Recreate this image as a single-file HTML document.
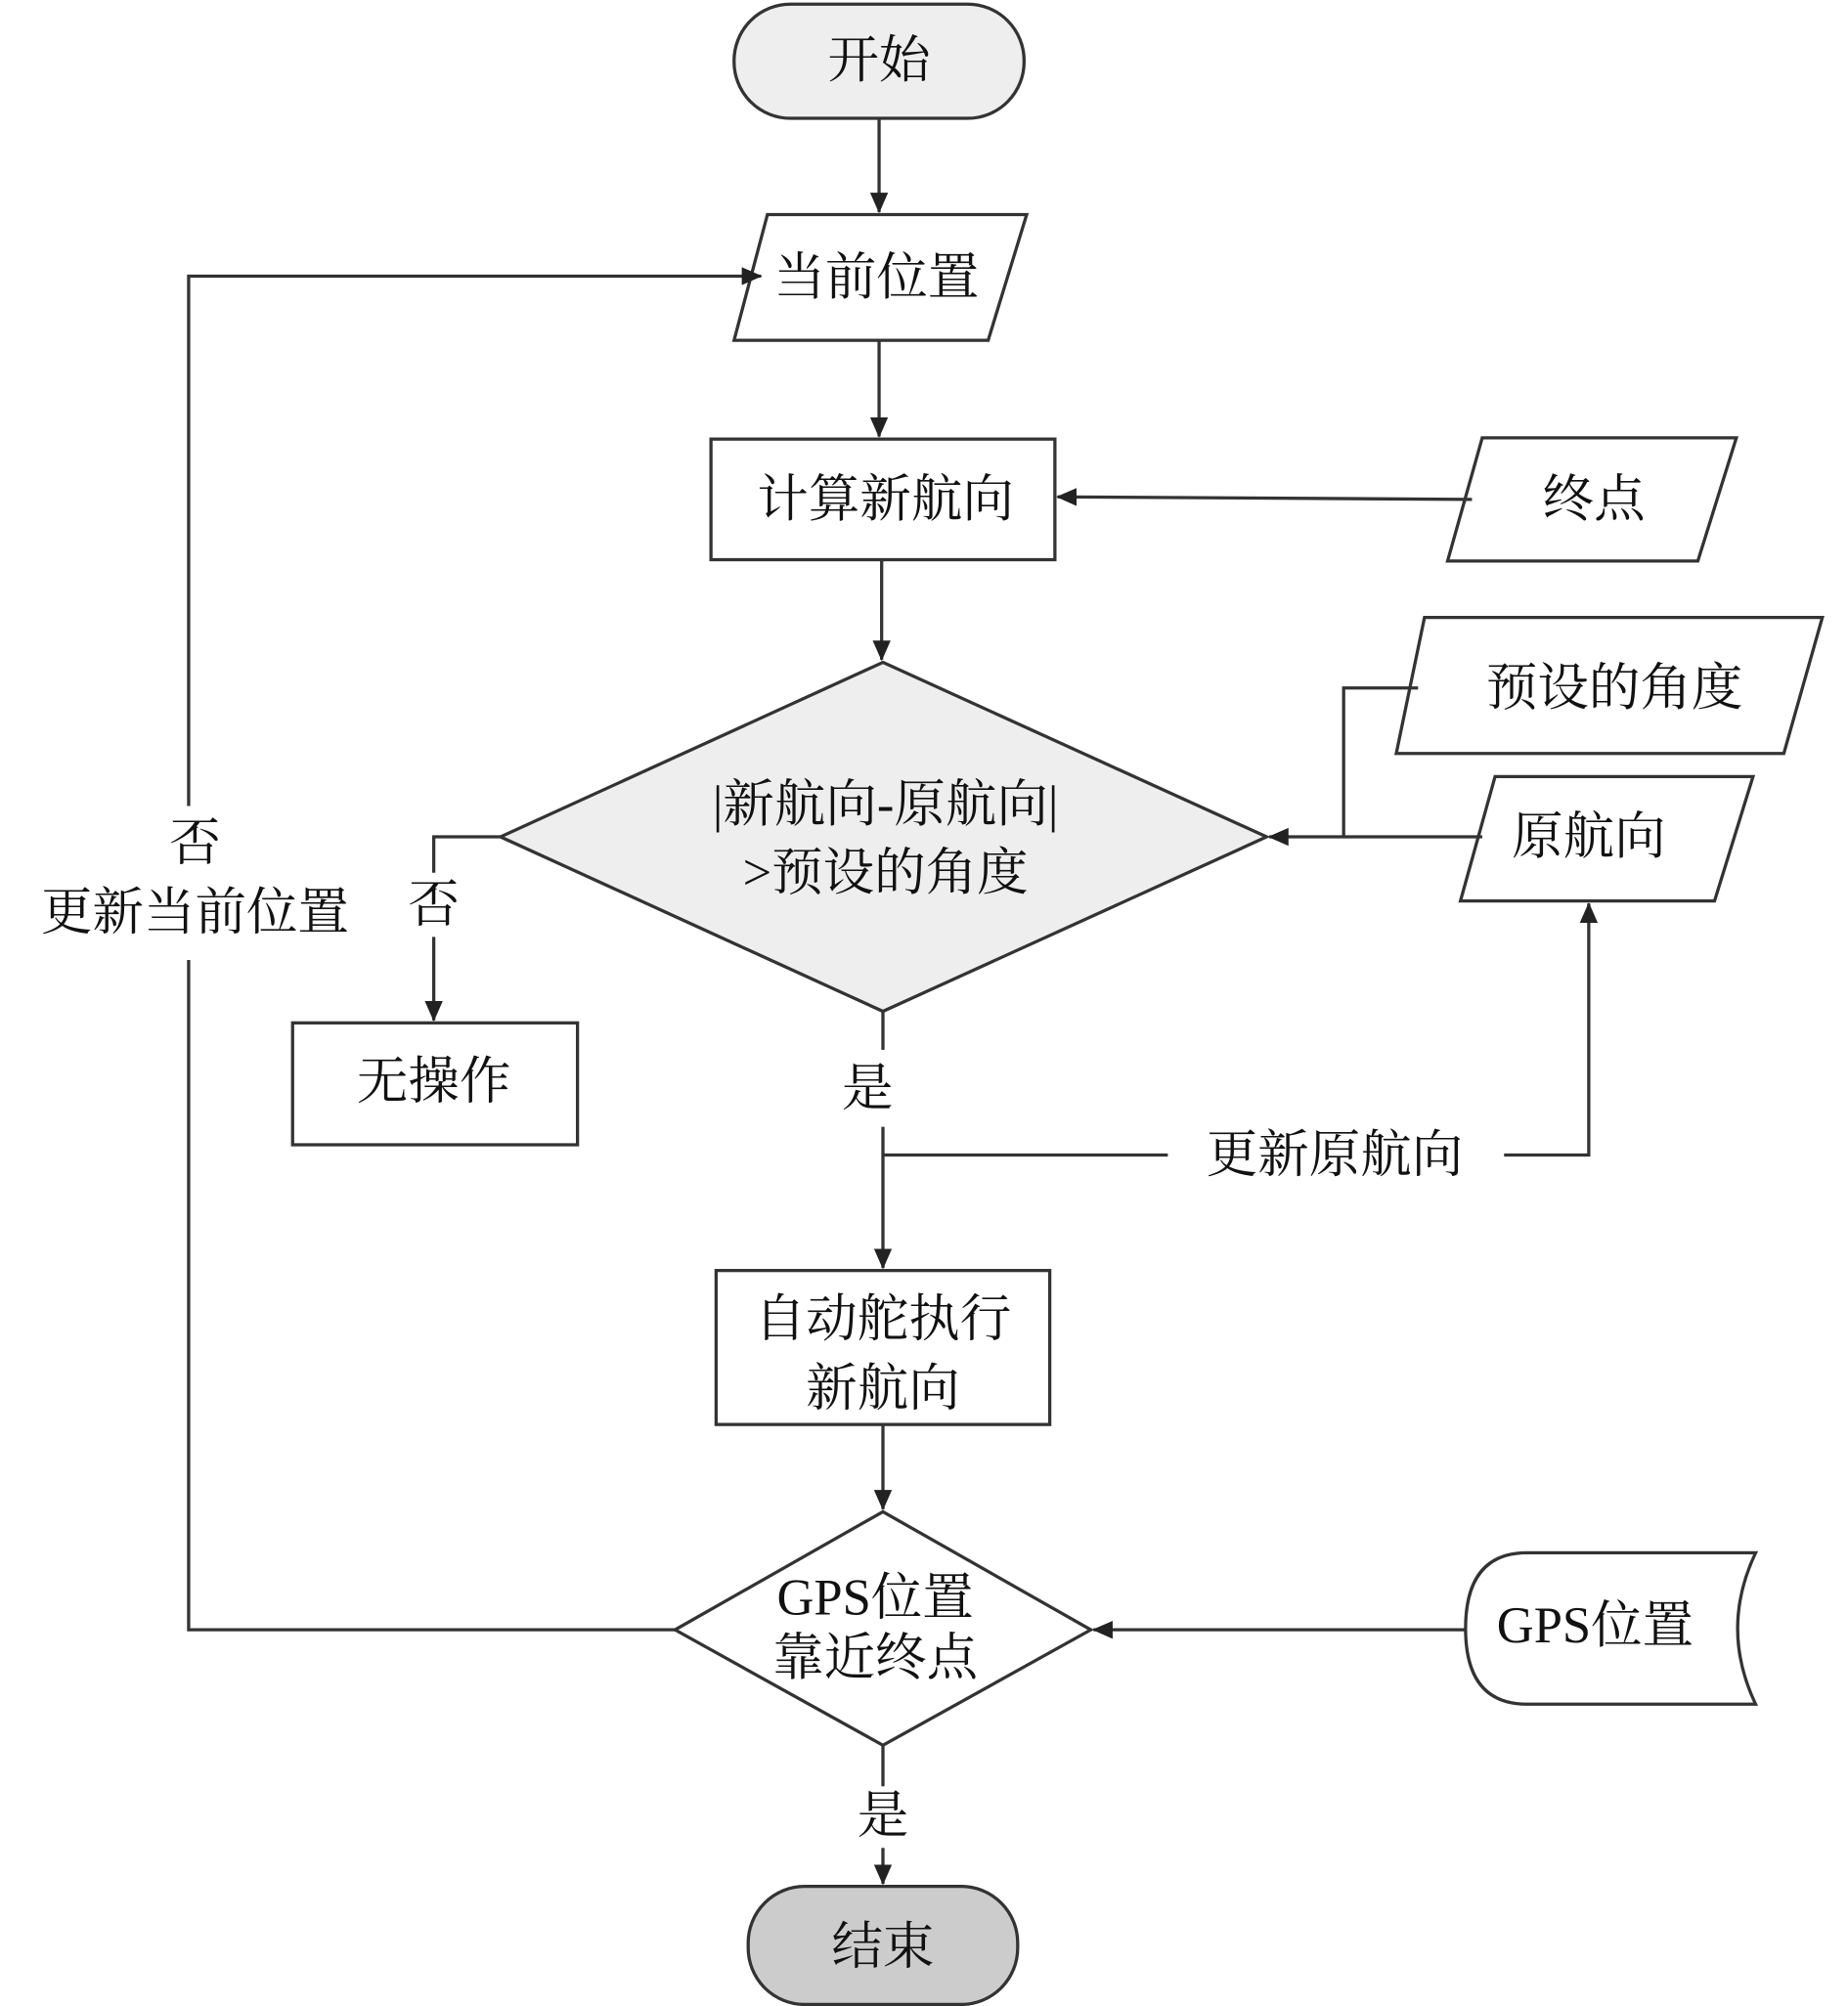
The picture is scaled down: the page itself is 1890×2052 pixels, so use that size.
<!DOCTYPE html>
<html><head><meta charset="utf-8"><style>
html,body{margin:0;padding:0;background:#fff;}
svg{display:block;}
text{font-family:"Liberation Serif","Noto Serif CJK SC",serif;font-size:40px;fill:#111;text-anchor:middle;dominant-baseline:central;}
.s{fill:none;stroke:#333;stroke-width:2.5;}
.n{stroke:#333;stroke-width:2.5;}
</style></head><body>
<svg width="1890" height="2052" viewBox="0 0 1440 1563" xmlns="http://www.w3.org/2000/svg">
<defs><marker id="a" markerWidth="10" markerHeight="10" refX="9" refY="5" orient="auto" markerUnits="userSpaceOnUse" viewBox="0 0 10 10"><path d="M0,0 L10,5 L0,10 z" fill="#222"/></marker>
<marker id="b" markerWidth="16" markerHeight="16" refX="15" refY="8" orient="auto" markerUnits="userSpaceOnUse" viewBox="0 0 16 16"><path d="M0,1 L16,8 L0,15 z" fill="#222"/></marker></defs>

<rect x="572" y="3" width="226" height="89" rx="44" fill="#eee" class="n"/>
<text x="685" y="47">开始</text>
<line x1="685" y1="92" x2="685" y2="165" class="s" marker-end="url(#b)"/>

<polygon points="598,167 800,167 770,265 572,265" fill="#fff" class="n"/>
<text x="683" y="216">当前位置</text>
<line x1="685" y1="265" x2="685" y2="340" class="s" marker-end="url(#b)"/>

<rect x="554" y="342" width="268" height="94" fill="#fff" class="n"/>
<text x="690" y="389">计算新航向</text>

<polygon points="1155,341 1353,341 1323,437 1128,437" fill="#fff" class="n"/>
<text x="1242" y="389">终点</text>
<line x1="1147" y1="389" x2="824" y2="387" class="s" marker-end="url(#b)"/>

<line x1="687" y1="436" x2="687" y2="514" class="s" marker-end="url(#b)"/>

<polygon points="688,516 987,652 688,788 390,652" fill="#eee" class="n"/>
<text x="690" y="627">|新航向-原航向|</text>
<text x="690" y="680">&gt;预设的角度</text>

<polygon points="1110,481 1420,481 1390,587 1088,587" fill="#fff" class="n"/>
<text x="1258" y="536">预设的角度</text>
<polyline points="1105,536 1047,536 1047,652" class="s"/>

<polygon points="1165,605 1366,605 1336,702 1138,702" fill="#fff" class="n"/>
<text x="1238" y="652">原航向</text>
<line x1="1155" y1="652" x2="989" y2="652" class="s" marker-end="url(#b)"/>

<polyline points="390,652 338,652 338,680" class="s"/>
<text x="338" y="705">否</text>
<line x1="338" y1="730" x2="338" y2="795" class="s" marker-end="url(#b)"/>
<rect x="228" y="797" width="222" height="95" fill="#fff" class="n"/>
<text x="338" y="843">无操作</text>

<line x1="688" y1="788" x2="688" y2="818" class="s"/>
<text x="676" y="848">是</text>
<line x1="688" y1="878" x2="688" y2="988" class="s" marker-end="url(#b)"/>
<line x1="688" y1="900" x2="910" y2="900" class="s"/>
<text x="1040" y="900">更新原航向</text>
<polyline points="1172,900 1238,900 1238,704" class="s" marker-end="url(#b)"/>

<rect x="558" y="990" width="260" height="120" fill="#fff" class="n"/>
<text x="688" y="1028">自动舵执行</text>
<text x="688" y="1082">新航向</text>
<line x1="688" y1="1110" x2="688" y2="1176" class="s" marker-end="url(#b)"/>

<polygon points="688,1178 850,1270 688,1360 526,1270" fill="#fff" class="n"/>
<text x="682" y="1245">GPS位置</text>
<text x="682" y="1292">靠近终点</text>

<path d="M1190,1210 L1368,1210 Q1340,1269 1368,1328 L1190,1328 Q1142,1328 1142,1269 Q1142,1210 1190,1210 Z" fill="#fff" class="n"/>
<text x="1243" y="1267">GPS位置</text>
<line x1="1142" y1="1270" x2="852" y2="1270" class="s" marker-end="url(#b)"/>

<polyline points="526,1270 147,1270 147,748" class="s"/>
<polyline points="147,628 147,215 593,215" class="s" marker-end="url(#b)"/>
<text x="152" y="657">否</text>
<text x="152" y="711">更新当前位置</text>

<line x1="688" y1="1360" x2="688" y2="1392" class="s"/>
<text x="688" y="1415">是</text>
<line x1="688" y1="1440" x2="688" y2="1468" class="s" marker-end="url(#b)"/>

<rect x="583" y="1470" width="210" height="92" rx="44" fill="#ccc" class="n"/>
<text x="688" y="1517">结束</text>
</svg>
</body></html>
